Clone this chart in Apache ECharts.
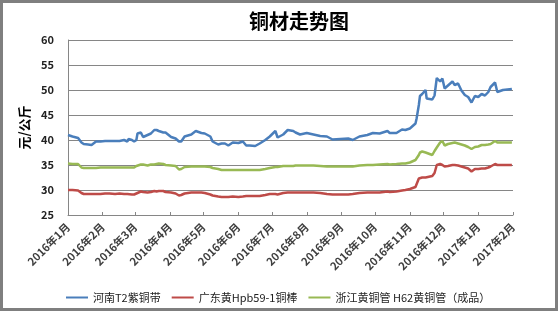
<!DOCTYPE html>
<html>
<head>
<meta charset="utf-8">
<script src="https://cdn.jsdelivr.net/npm/echarts@6/dist/echarts.min.js"></script>
<style>
html,body{margin:0;padding:0;background:#fff;}
#chart{width:558px;height:313px;}
</style>
</head>
<body>
<div id="chart"></div>
<script>
// ---- data ----
const dates = [
'2016-01-01','2016-01-05','2016-01-10','2016-01-13','2016-01-15','2016-01-19','2016-01-22','2016-01-26','2016-01-30',
'2016-02-03','2016-02-07','2016-02-12','2016-02-16','2016-02-20','2016-02-23','2016-02-24','2016-02-27','2016-02-29',
'2016-03-02','2016-03-03','2016-03-06','2016-03-08','2016-03-12','2016-03-15','2016-03-18','2016-03-20','2016-03-22','2016-03-26','2016-03-28',
'2016-04-02','2016-04-06','2016-04-09','2016-04-11','2016-04-14','2016-04-20','2016-04-24','2016-04-29',
'2016-05-02','2016-05-07','2016-05-09','2016-05-14','2016-05-17','2016-05-20','2016-05-23','2016-05-27',
'2016-06-01','2016-06-05','2016-06-08','2016-06-11','2016-06-16','2016-06-20','2016-06-25','2016-06-29',
'2016-07-04','2016-07-06','2016-07-11','2016-07-15','2016-07-20','2016-07-22','2016-07-26',
'2016-08-01','2016-08-07','2016-08-13','2016-08-19','2016-08-24','2016-08-31',
'2016-09-07','2016-09-11','2016-09-17','2016-09-24','2016-09-29',
'2016-10-05','2016-10-12','2016-10-14','2016-10-20','2016-10-25','2016-10-28',
'2016-11-01','2016-11-06','2016-11-07','2016-11-09','2016-11-10','2016-11-12','2016-11-13','2016-11-15','2016-11-16','2016-11-21','2016-11-23','2016-11-25','2016-11-28','2016-11-30',
'2016-12-02','2016-12-05','2016-12-09','2016-12-11','2016-12-14','2016-12-17','2016-12-20','2016-12-23','2016-12-26','2016-12-29',
'2017-01-01','2017-01-04','2017-01-07','2017-01-10','2017-01-12','2017-01-16','2017-01-18','2017-01-23','2017-01-27','2017-01-31'
];
const henanT2 = [
41.0,40.7,40.4,39.5,39.2,39.1,39.0,39.7,39.7,
39.8,39.8,39.8,39.8,40.0,39.7,40.2,40.0,39.7,
40.0,41.3,41.5,40.6,41.0,41.3,42.0,42.0,41.8,41.5,41.5,
40.6,40.3,39.7,39.7,40.7,41.1,41.8,41.4,
41.3,40.7,39.7,39.1,39.3,39.3,38.9,39.5,
39.4,39.7,38.9,38.9,38.8,39.3,40.0,40.7,
41.8,40.5,41.1,42.0,41.8,41.5,41.1,
41.4,41.1,40.8,40.7,40.1,40.2,
40.3,40.0,40.7,41.0,41.4,
41.3,41.8,41.4,41.4,42.1,42.0,
42.3,43.3,44.3,47.0,48.8,49.2,49.0,50.0,48.3,48.1,48.9,52.4,51.7,52.3,
50.3,50.9,51.7,51.0,51.3,49.9,49.0,48.6,47.5,48.8,
48.6,49.2,48.9,49.6,50.6,51.5,49.6,50.0,50.1,50.2
];
const guangdongHpb = [
30.0,30.0,29.9,29.4,29.2,29.2,29.2,29.2,29.2,
29.3,29.3,29.2,29.3,29.2,29.2,29.2,29.1,29.1,
29.3,29.6,29.7,29.6,29.5,29.6,29.8,29.7,29.8,29.8,29.6,
29.5,29.3,28.9,29.0,29.3,29.5,29.5,29.5,
29.4,29.1,28.9,28.7,28.6,28.6,28.6,28.7,
28.6,28.7,28.8,28.8,28.8,28.8,29.0,29.2,
29.2,29.1,29.4,29.5,29.5,29.5,29.5,
29.5,29.5,29.4,29.2,29.1,29.1,
29.1,29.2,29.4,29.5,29.5,
29.5,29.7,29.6,29.7,29.9,30.0,
30.2,30.6,31.0,32.3,32.4,32.5,32.5,32.5,32.6,32.8,33.4,35.0,35.2,35.0,
34.7,34.8,35.0,35.0,34.9,34.7,34.5,34.3,33.7,34.2,
34.2,34.3,34.3,34.5,34.7,35.2,35.0,35.0,35.0,35.0
];
const zhejiangH62 = [
35.3,35.2,35.2,34.5,34.4,34.4,34.4,34.4,34.5,
34.5,34.5,34.5,34.5,34.5,34.5,34.5,34.5,34.5,
34.8,35.0,35.1,35.1,34.9,35.1,35.1,35.2,35.3,35.2,35.0,
34.9,34.8,34.1,34.2,34.6,34.7,34.7,34.7,
34.7,34.6,34.4,34.2,34.0,34.0,34.0,34.0,
34.0,34.0,34.0,34.0,34.0,34.0,34.2,34.4,
34.6,34.6,34.8,34.8,34.8,34.9,34.9,
34.9,34.9,34.8,34.7,34.7,34.7,
34.7,34.7,34.9,35.0,35.0,
35.1,35.2,35.1,35.2,35.3,35.3,
35.5,36.0,36.3,37.0,37.5,37.7,37.8,37.5,37.3,37.0,37.8,38.5,39.5,39.8,
38.9,39.2,39.4,39.5,39.3,39.1,38.9,38.6,38.2,38.6,
38.7,39.0,39.0,39.1,39.2,39.8,39.5,39.5,39.5,39.5
];
const seriesNames = ['河南T2紫铜带','广东黄Hpb59-1铜棒','浙江黄铜管 H62黄铜管（成品）'];
const monthTicks = ['2016-01-01','2016-02-01','2016-03-01','2016-04-01','2016-05-01','2016-06-01','2016-07-01',
'2016-08-01','2016-09-01','2016-10-01','2016-11-01','2016-12-01','2017-01-01','2017-02-01'];
const yTicks = [25,30,35,40,45,50,55,60];

function ts(s){ const p = s.split('-').map(Number); return new Date(p[0], p[1]-1, p[2]).getTime(); }
const tickTs = monthTicks.map(ts);
function toData(arr){ return dates.map((d,i)=>[ts(d), arr[i]]); }

const font = '"Noto Sans CJK SC", "Noto Sans", sans-serif';
const chart = echarts.init(document.getElementById('chart'), null, {renderer:'canvas'});
chart.setOption({
  animation:false,
  backgroundColor:'#fff',
  textStyle:{fontFamily:font},
  title:{
    text:'铜材走势图', left:294, top:6, textAlign:'center',
    textStyle:{fontSize:20, fontWeight:'bold', color:'#000', fontFamily:font}
  },
  graphic:[{
    type:'rect', shape:{x:1.5, y:1.5, width:555, height:308}, silent:true,
    style:{fill:'none', stroke:'#7f7f7f', lineWidth:3}
  }],
  legend:{
    left:61, top:287, itemWidth:22, itemHeight:10, itemGap:11,
    icon:'path://M0,4 L22,4 L22,6 L0,6 Z',
    textStyle:{fontSize:11, color:'#222', fontFamily:font},
    data:seriesNames
  },
  grid:{left:68, right:45, top:40, bottom:98, containLabel:false},
  xAxis:{
    type:'value', min:tickTs[0], max:tickTs[tickTs.length-1],
    axisLine:{lineStyle:{color:'#868686', width:1}},
    axisTick:{show:true, inside:true, length:3, lineStyle:{color:'#868686'}, customValues:tickTs},
    splitLine:{show:false},
    axisLabel:{
      customValues:tickTs, rotate:45, margin:10, fontSize:11, color:'#404040', fontWeight:'bold', fontFamily:font,
      formatter:function(v){ const d=new Date(v); return d.getFullYear()+'年'+(d.getMonth()+1)+'月'; }
    }
  },
  yAxis:{
    type:'value', min:yTicks[0], max:yTicks[yTicks.length-1], interval:5,
    name:'元/公斤', nameLocation:'middle', nameGap:36, nameRotate:90,
    nameTextStyle:{fontSize:13, fontWeight:'bold', color:'#000', fontFamily:font},
    axisLine:{show:true, lineStyle:{color:'#868686'}},
    axisTick:{show:false},
    splitLine:{lineStyle:{color:'#868686', width:1}},
    axisLabel:{margin:14, fontSize:11, color:'#222', fontWeight:'bold', fontFamily:font}
  },
  series:[
    {name:seriesNames[0], type:'line', data:toData(henanT2), symbol:'none', lineStyle:{color:'#4A7EBB', width:2.5}, itemStyle:{color:'#4A7EBB'}},
    {name:seriesNames[1], type:'line', data:toData(guangdongHpb), symbol:'none', lineStyle:{color:'#BE4B48', width:2.5}, itemStyle:{color:'#BE4B48'}},
    {name:seriesNames[2], type:'line', data:toData(zhejiangH62), symbol:'none', lineStyle:{color:'#98B954', width:2.5}, itemStyle:{color:'#98B954'}}
  ]
});
</script>
</body>
</html>
